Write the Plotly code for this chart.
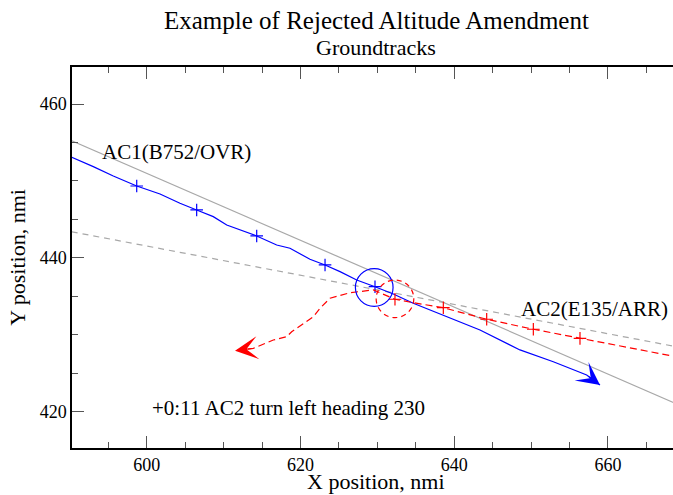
import plotly.graph_objects as go

# ---- data (nmi) ----
ac1_x = [590.23, 591.31, 593.04, 595.64, 598.69, 601.72, 604.32, 606.49, 608.65, 610.40,
         614.30, 616.90, 618.63, 621.23, 623.19, 625.14, 627.31, 629.69, 632.07, 634.67,
         639.02, 643.35, 648.55, 652.89, 657.23, 658.96]
ac1_y = [453.08, 452.64, 451.86, 450.65, 449.35, 448.31, 447.10, 446.23, 445.36, 444.28,
         442.85, 441.68, 441.25, 439.82, 439.08, 438.21, 437.13, 436.25, 435.31, 434.10,
         432.35, 430.63, 428.03, 426.50, 424.77, 423.47]
ac1_mark_x = [598.69, 606.49, 614.30, 623.19, 629.69]
ac1_mark_y = [449.35, 446.23, 442.85, 439.08, 436.25]

ac2_x = [669.37, 656.36, 650.29, 644.22, 638.58, 634.67, 632.29, 629.47, 626.44, 623.84,
         622.54, 621.66, 620.36, 618.85, 618.20, 616.46, 613.86, 611.48]
ac2_y = [427.05, 429.54, 430.72, 432.02, 433.52, 434.17, 434.62, 435.83, 435.47, 434.75,
         433.45, 432.35, 431.50, 430.40, 429.75, 429.32, 428.24, 427.93]
ac2_mark_x = [656.36, 650.29, 644.22, 638.58, 632.29]
ac2_mark_y = [429.54, 430.72, 432.02, 433.52, 434.62]

proj1_x = [590.23, 670.0]
proj1_y = [455.24, 420.54]
proj2_x = [590.23, 670.0]
proj2_y = [443.40, 428.24]

circ1_c = (629.59, 436.15)
circ2_c = (632.29, 434.68)
circ_r = 2.45

x_ticks = [600, 620, 640, 660]
y_ticks = [420, 440, 460]

FONT = "Liberation Serif"
BLUE = "#0000ff"
RED = "#ff0000"
GRAY = "#a8a8a8"

fig = go.Figure()
fig.add_trace(go.Scatter(x=proj1_x, y=proj1_y, mode="lines",
                         line=dict(color=GRAY, width=1.2)))
fig.add_trace(go.Scatter(x=proj2_x, y=proj2_y, mode="lines",
                         line=dict(color=GRAY, width=1.2, dash="6px,5px")))
fig.add_trace(go.Scatter(x=ac1_x, y=ac1_y, mode="lines",
                         line=dict(color=BLUE, width=1.2)))
fig.add_trace(go.Scatter(x=ac1_mark_x, y=ac1_mark_y, mode="markers",
                         marker=dict(symbol="cross-thin", size=9,
                                     line=dict(color=BLUE, width=1.2))))
fig.add_trace(go.Scatter(x=ac2_x, y=ac2_y, mode="lines",
                         line=dict(color=RED, width=1.2, dash="7px,4px")))
fig.add_trace(go.Scatter(x=ac2_mark_x, y=ac2_mark_y, mode="markers",
                         marker=dict(symbol="cross-thin", size=9,
                                     line=dict(color=RED, width=1.2))))

fig.add_shape(type="circle", xref="x", yref="y",
              x0=circ1_c[0] - circ_r, x1=circ1_c[0] + circ_r,
              y0=circ1_c[1] - circ_r, y1=circ1_c[1] + circ_r,
              line=dict(color=BLUE, width=1.2))
fig.add_shape(type="circle", xref="x", yref="y",
              x0=circ2_c[0] - circ_r, x1=circ2_c[0] + circ_r,
              y0=circ2_c[1] - circ_r, y1=circ2_c[1] + circ_r,
              line=dict(color=RED, width=1.2, dash="5px,4px"))

# arrow heads at the track ends
fig.add_annotation(x=ac1_x[-1], y=ac1_y[-1], ax=ac1_x[-2], ay=ac1_y[-2],
                   xref="x", yref="y", axref="x", ayref="y", text="",
                   showarrow=True, arrowhead=3, arrowsize=3.2, arrowwidth=1.2,
                   arrowcolor=BLUE, standoff=0)
fig.add_annotation(x=ac2_x[-1], y=ac2_y[-1], ax=ac2_x[-2], ay=ac2_y[-2],
                   xref="x", yref="y", axref="x", ayref="y", text="",
                   showarrow=True, arrowhead=3, arrowsize=3.2, arrowwidth=1.2,
                   arrowcolor=RED, standoff=0)

txt = dict(family=FONT, size=21, color="black")
fig.add_annotation(x=593.9, y=453.8, xref="x", yref="y", text="AC1(B752/OVR)",
                   showarrow=False, xanchor="left", yanchor="middle", font=txt)
fig.add_annotation(x=648.4, y=433.4, xref="x", yref="y", text="AC2(E135/ARR)",
                   showarrow=False, xanchor="left", yanchor="middle", font=txt)
fig.add_annotation(x=600.4, y=420.5, xref="x", yref="y",
                   text="+0:11 AC2 turn left heading 230",
                   showarrow=False, xanchor="left", yanchor="middle", font=txt)

fig.add_annotation(x=0.506, y=1.123, xref="paper", yref="paper",
                   text="Example of Rejected Altitude Amendment", showarrow=False,
                   xanchor="center", yanchor="middle",
                   font=dict(family=FONT, size=25, color="black"))
fig.add_annotation(x=0.506, y=1.052, xref="paper", yref="paper",
                   text="Groundtracks", showarrow=False,
                   xanchor="center", yanchor="middle",
                   font=dict(family=FONT, size=22, color="black"))
fig.add_annotation(x=0.506, y=-0.088, xref="paper", yref="paper",
                   text="X position, nmi", showarrow=False,
                   xanchor="center", yanchor="middle",
                   font=dict(family=FONT, size=22, color="black"))

axis_common = dict(showgrid=False, zeroline=False, showline=True, linecolor="black",
                   linewidth=1.5, ticks="inside", ticklen=12, tickwidth=1.2,
                   tickcolor="#555555",
                   tickfont=dict(family=FONT, size=18, color="black"),
                   minor=dict(ticks="inside", ticklen=6, tickwidth=1.2,
                              tickcolor="#555555", dtick=5))

fig.update_xaxes(range=[590.27, 668.46], tickvals=x_ticks, mirror="ticks",
                 **axis_common)
fig.update_yaxes(range=[415.28, 464.82], tickvals=y_ticks, mirror=False,
                 title=dict(text="Y position, nmi", standoff=8,
                            font=dict(family=FONT, size=22, color="black")),
                 **axis_common)

fig.update_layout(width=673, height=495, showlegend=False,
                  margin=dict(l=72, r=0, t=67, b=47, autoexpand=False),
                  plot_bgcolor="white", paper_bgcolor="white")

# remove the page's default body margin so the figure fills the window exactly
fig.write_html("out.html", config={"displayModeBar": False},
               post_script="document.body.style.margin='0';"
                           "document.body.style.overflow='hidden';")
